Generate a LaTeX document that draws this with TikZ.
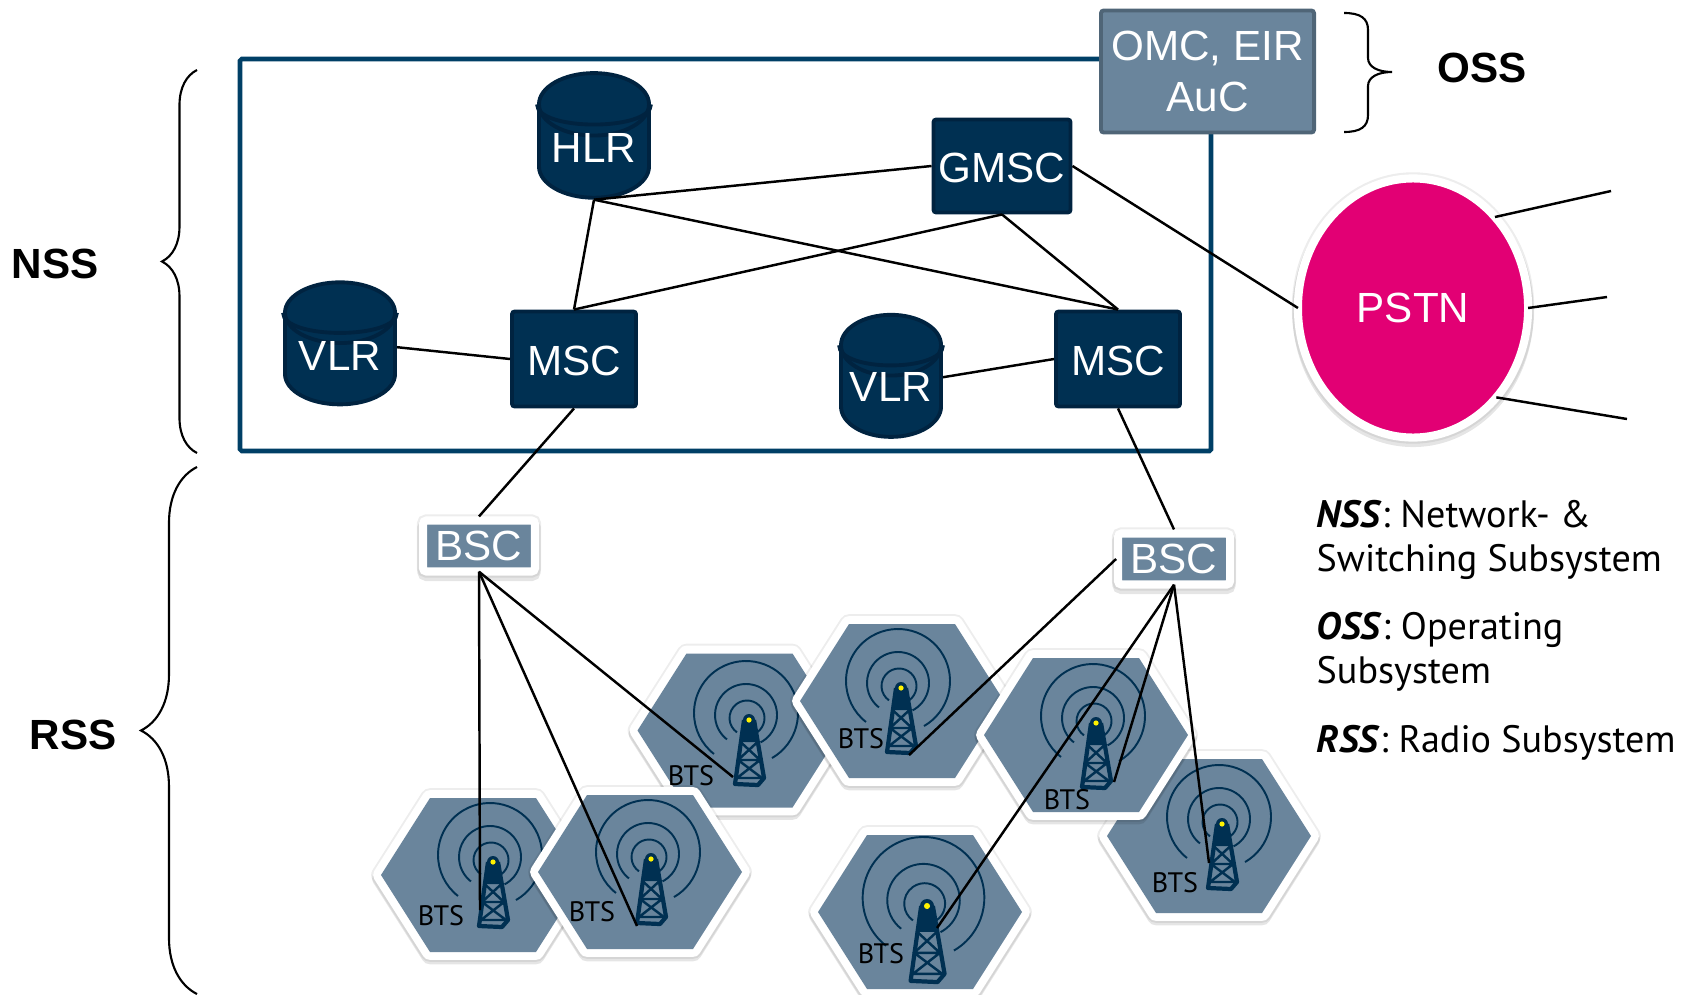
\documentclass[tikz,border=0pt]{standalone}
\usepackage{fontspec}
\setmainfont{Liberation Sans}
\newfontfamily\legendfont{PT Sans}
\usetikzlibrary{shapes.geometric,decorations.pathreplacing}

\definecolor{navy}{HTML}{003052}
\definecolor{navyline}{HTML}{002340}
\definecolor{slate}{HTML}{6A859C}
\definecolor{slateline}{HTML}{4F6577}
\definecolor{magenta}{HTML}{E20074}
\definecolor{frameblue}{HTML}{003F66}

\tikzset{
    softshadow/.style={preaction={draw=black,draw opacity=.07,line width=3.5pt},
        preaction={draw=black,draw opacity=.1,line width=3.2pt,transform canvas={yshift=-1.1pt}}},
    netbox/.style={draw=navyline,fill=navy,line width=1.1pt,rounded corners=.8pt,text=white,inner sep=0pt,font=\fontsize{12}{14.5}\selectfont},
    switchbox/.style={netbox,text height=9.3pt},
    dbstore/.style={cylinder,shape border rotate=90,aspect=.74,draw=navyline,fill=navy,line width=1.1pt,
        font=\fontsize{12}{14.5}\selectfont,minimum width=1.1cm,minimum height=1.18cm,inner sep=0pt},
    dbname/.style={text=white,inner sep=0pt,font=\fontsize{12}{14.5}\selectfont},
    cellbox/.style={softshadow,draw=white,fill=slate,line width=2.3pt,rounded corners=1pt,text=white,
        minimum width=1.12cm,minimum height=.51cm,inner sep=0pt,font=\fontsize{12}{14.5}\selectfont},
    subname/.style={font=\fontsize{12}{14.5}\selectfont\bfseries},
    bracy/.style={decorate,decoration={brace,amplitude=#1},line width=.6pt},
    link/.style={line width=.7pt,black},
    btsname/.style={font=\legendfont\fontsize{8}{10}\selectfont,inner sep=0pt},
    legendtext/.style={anchor=north west,inner sep=0pt,align=left,font=\legendfont\fontsize{10.85}{12.3}\selectfont},
    mastarc/.style={draw=navy,line width=.55pt},
    hexcell/.pic={
        \draw[black,draw opacity=.07,line width=5.6pt,line join=round]
            (-102,0) -- (-53,77) -- (53,77) -- (102,0) -- (53,-77) -- (-53,-77) -- cycle;
        \draw[black,draw opacity=.1,line width=5pt,line join=round,yshift=-1pt]
            (-102,0) -- (-53,77) -- (53,77) -- (102,0) -- (53,-77) -- (-53,-77) -- cycle;
        \filldraw[white,line width=4.5pt,line join=round]
            (-102,0) -- (-53,77) -- (53,77) -- (102,0) -- (53,-77) -- (-53,-77) -- cycle;
        \fill[slate] (-102,0) -- (-53,77) -- (53,77) -- (102,0) -- (53,-77) -- (-53,-77) -- cycle;
    },
    mast/.pic={
        \draw[mastarc] (-3,7) ++(-60:52) arc[start angle=-60,end angle=232,radius=52];
        \draw[mastarc] (-3,5) ++(-62:31) arc[start angle=-62,end angle=232,radius=31];
        \draw[mastarc] (-2,2) ++(-55:17.5) arc[start angle=-55,end angle=235,radius=17.5];
        \fill[navy] (0,0) circle (6);
        \fill[navy] (-5,2) -- (5,2) -- (8.5,-22) -- (-8.5,-22) -- cycle;
        \draw[navy,line width=1.2pt,line join=round] (-5,0) -- (-14,-64) -- (9,-65) -- (15,-58) -- (5,0);
        \draw[navy,line width=.7pt] (-8.5,-22) -- (11,-40) -- (-12,-58) (8.5,-22) -- (-11,-40) -- (13,-58)
            (-11,-40) -- (11,-40) (-12,-58) -- (13,-58);
        \fill[yellow] (0,0) circle (2.6);
    }
}

\begin{document}
\begin{tikzpicture}[x=0.01cm,y=0.01cm]
    \useasboundingbox (0,0) rectangle (1698,-994);

    \draw[frameblue,line width=1.3pt,rounded corners=.5pt] (240,-59) rectangle (1211,-451);

    \foreach \hx/\hy/\tx/\ty/\lx/\ly/\ts [count=\i] in {483/-875/493/-862/441/-916/1,
            739.5/-730.5/749/-720/691/-776/1, 902/-701/901/-688/861/-739/1,
            1209/-836/1222/-824/1175/-883/1, 1086/-735/1096/-723/1067/-800/1,
            640/-872/651/-859/592/-912/1, 920/-912/927/-906/881/-954/1.17} {
        \pic at (\hx,\hy) {hexcell};
        \pic[scale=\ts] at (\tx,\ty) {mast};
        \node[btsname] (btslabel\i) at (\lx,\ly) {BTS};
    }

    \node[netbox,draw=slateline,fill=slate,minimum width=2.13cm,minimum height=1.22cm,align=center] (omc) at (1207.5,-71.5) {OMC, EIR\\AuC};
    \node[dbstore] (hlr) at (594,-152) {\phantom{HLR}};
    \node[dbstore] (vlra) at (340,-359.5) {\phantom{VLR}};
    \node[dbstore,minimum width=1cm] (vlrb) at (891,-392) {\phantom{VLR}};
    \foreach \db in {hlr,vlra,vlrb}
        \draw[navyline,line width=1.1pt] (\db.before top) .. controls +(0,-27) and +(0,-27) .. (\db.after top);
    \node[dbname] (hlrname) at (594,-148) {HLR};
    \node[dbname] (vlraname) at (340,-356) {VLR};
    \node[dbname] (vlrbname) at (891,-387) {VLR};
    \node[switchbox,minimum width=1.37cm,minimum height=.93cm] (gmsc) at (1002,-166) {GMSC};
    \node[switchbox,minimum width=1.24cm,minimum height=.95cm] (msca) at (574,-359) {MSC};
    \node[switchbox,minimum width=1.24cm,minimum height=.95cm] (mscb) at (1118,-359) {MSC};
    \node[cellbox] (bsca) at (479,-546) {BSC};
    \node[cellbox] (bscb) at (1174,-559) {BSC};
    \node[ellipse,softshadow,draw=white,fill=magenta,line width=2.3pt,minimum width=2.3cm,minimum height=2.59cm,inner sep=0pt,outer sep=0pt,text=white,font=\fontsize{12}{14.5}\selectfont] (pstn) at (1413,-308) {PSTN};

    \node[subname] (nsslabel) at (55,-264) {NSS};
    \node[subname] (rsslabel) at (73,-735) {RSS};
    \node[subname] (osslabel) at (1482,-68) {OSS};

    \draw[bracy=.35cm] (197,-453) -- (197,-70);
    \draw[bracy=.56cm] (197,-994) -- (197,-467);
    \draw[line width=.6pt] (1344,-13) .. controls (1360,-13) and (1368,-18) .. (1368,-30) -- (1368,-58)
        .. controls (1368,-67) and (1378,-72) .. (1392,-72) .. controls (1378,-72) and (1368,-77) .. (1368,-86)
        -- (1368,-115) .. controls (1368,-127) and (1360,-132) .. (1344,-132);

    \coordinate (pstnend1) at (1611,-191);
    \coordinate (pstnend2) at (1607,-297);
    \coordinate (pstnend3) at (1627,-419);
    \coordinate (btsend1) at (480,-910);
    \coordinate (btsend2) at (637,-926);
    \coordinate (btsend3) at (733,-777);
    \coordinate (btsend4) at (909,-755);
    \coordinate (btsend5) at (1114,-782);
    \coordinate (btsend6) at (1209,-863);
    \coordinate (btsend7) at (937,-928);

    \draw[link] (hlr.south) -- (msca.north);
    \draw[link] (hlr.south) -- (gmsc.west);
    \draw[link] (hlr.south) -- (mscb.north);
    \draw[link] (gmsc.south) -- (msca.north);
    \draw[link] (gmsc.south) -- (mscb.north);
    \draw[link] (gmsc.east) -- (pstn.west);
    \draw[link] ([yshift=3.5pt]vlra.east) -- (msca.west);
    \draw[link] ([yshift=4.2pt]vlrb.east) -- (mscb.west);
    \draw[link] (msca.south) -- (bsca.north);
    \draw[link] (mscb.south) -- (bscb.north);
    \draw[link] (pstn.48) -- (pstnend1);
    \draw[link] (pstn.0) -- (pstnend2);
    \draw[link] (pstn.-47) -- (pstnend3);
    \draw[link] ([yshift=1.1pt]bsca.south) -- (btsend1);
    \draw[link] ([yshift=1.1pt]bsca.south) -- (btsend2);
    \draw[link] ([yshift=1.1pt]bsca.south) -- (btsend3);
    \draw[link] ([xshift=.6pt]bscb.west) -- (btsend4);
    \draw[link] ([yshift=1.1pt]bscb.south) -- (btsend5);
    \draw[link] ([yshift=1.1pt]bscb.south) -- (btsend6);
    \draw[link] ([yshift=1.1pt]bscb.south) -- (btsend7);

    \node[legendtext] (nsstext) at (1316,-500) {\textbf{\textit{NSS}}: Network- \&\\Switching Subsystem};
    \node[legendtext] (osstext) at (1316,-612) {\textbf{\textit{OSS}}: Operating\\Subsystem};
    \node[legendtext] (rsstext) at (1316,-725) {\textbf{\textit{RSS}}: Radio Subsystem};
\end{tikzpicture}
\end{document}
